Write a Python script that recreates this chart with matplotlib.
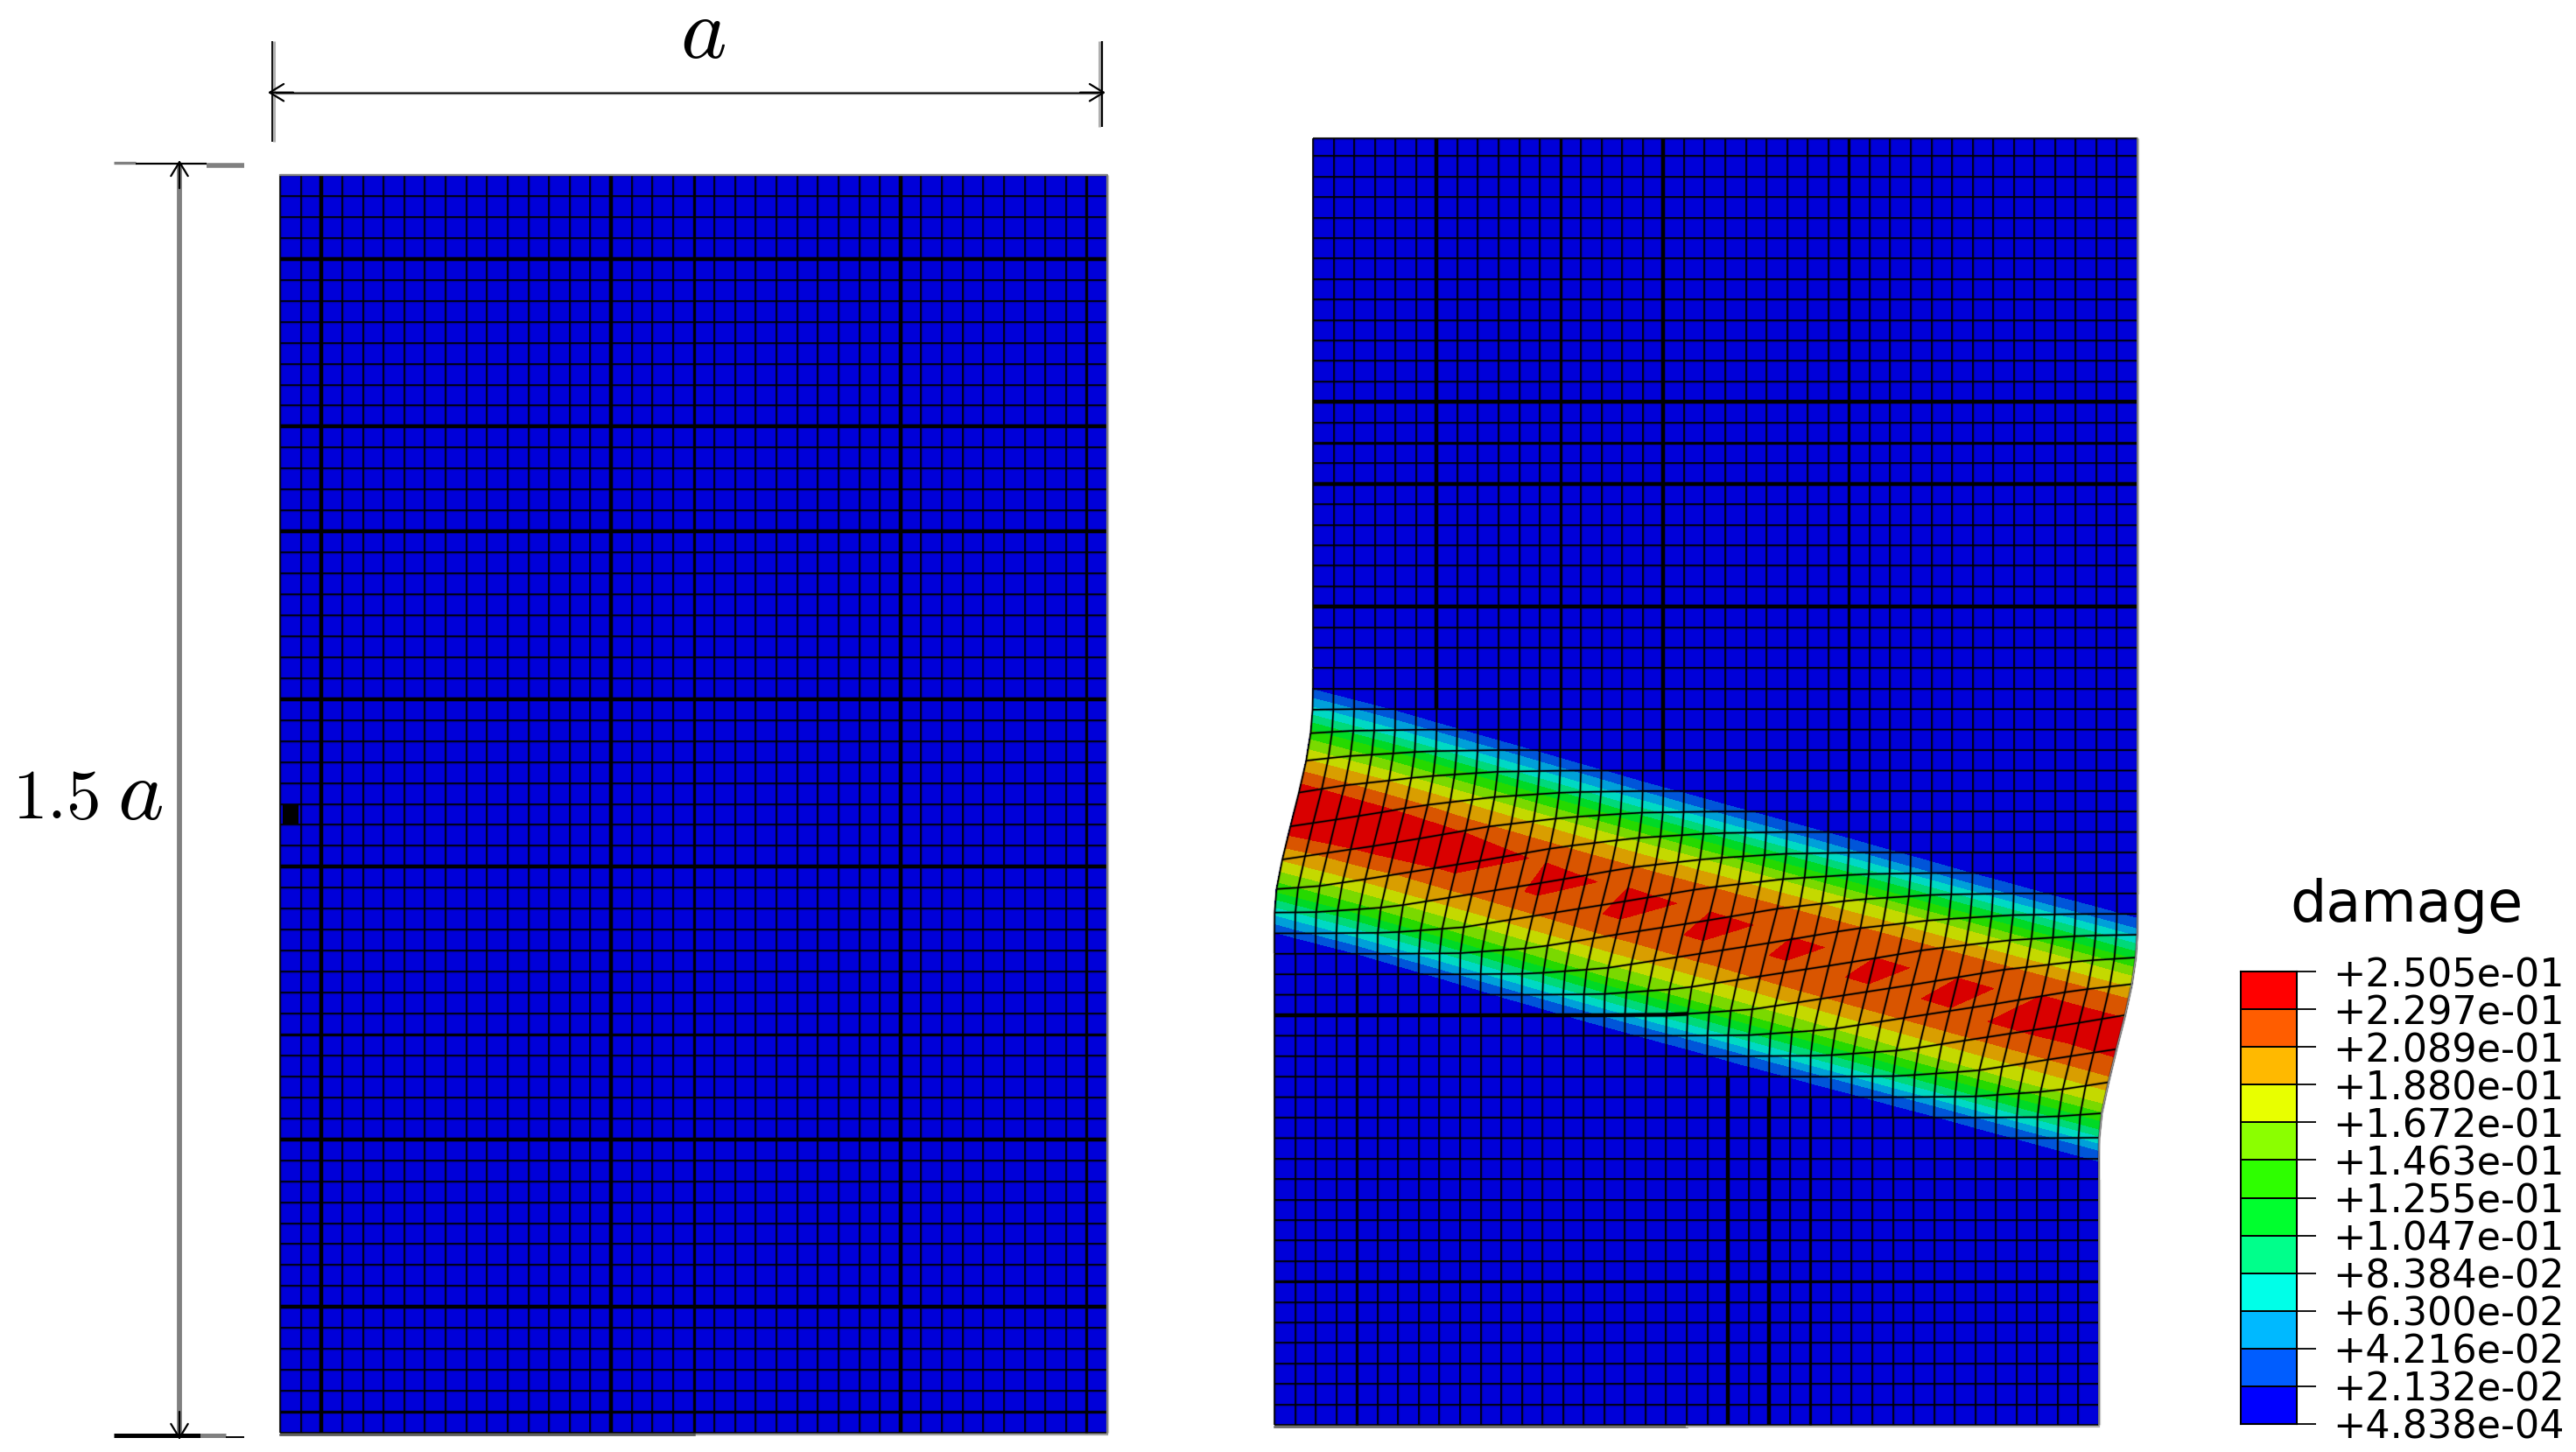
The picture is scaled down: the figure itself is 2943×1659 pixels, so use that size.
import numpy as np
import matplotlib
matplotlib.use("Agg")
import matplotlib.pyplot as plt
from matplotlib.colors import ListedColormap, BoundaryNorm
from matplotlib.patches import Rectangle

plt.rcParams["mathtext.fontset"] = "cm"
plt.rcParams["font.family"] = "DejaVu Sans"

# legend
level_labels = ["+4.838e-04", "+2.132e-02", "+4.216e-02", "+6.300e-02", "+8.384e-02",
                "+1.047e-01", "+1.255e-01", "+1.463e-01", "+1.672e-01", "+1.880e-01",
                "+2.089e-01", "+2.297e-01", "+2.505e-01"]
levels = [float(s) for s in level_labels]
legend_colors = ["#0000ff", "#005dff", "#00b9ff", "#00ffe8", "#00ff8b", "#00ff2e",
                 "#2eff00", "#8bff00", "#e8ff00", "#ffb900", "#ff5d00", "#ff0000"]
mesh_colors = ["#0000d9", "#0055d9", "#00a0d9", "#00d9c4", "#00d97a", "#00d926",
               "#26d900", "#7ad900", "#c4d900", "#d99e00", "#d95500", "#d90000"]

# mesh lines that are drawn heavier, left specimen
left_heavy_rows = [4, 12, 17, 25, 33, 46, 54]
left_medium_rows = [41, 59]
left_heavy_cols = [2, 16, 30]
left_medium_cols = [20, 39]
seed_col, seed_row = 0, 30

# right specimen
top_heavy_rows = [13, 17, 23]
top_medium_rows = [15]
bottom_heavy_rows = [40]
bottom_medium_rows = [53]
top_heavy_cols = [6, 17]
top_medium_cols = [12, 26]
bottom_heavy_cols = [22, 24]
bottom_medium_cols = [4, 26]

# damage read along the mesh, every 4th column (columns) for node rows 26..48
station_cols = [0, 4, 8, 12, 16, 20, 24, 28, 32, 36, 40]
band_centre_row = [31.5, 32.56, 33.72, 34.88, 36.04, 37.15, 38.26, 39.37, 40.48, 41.59, 42.7]
table_row_shift = [0.0, 0.0, 0.1, 0.2, 0.3, 0.35, 0.4, 0.45, 0.5, 0.55, 0.6]
table_rows = list(range(26, 49))
damage = [
    [0.000, 0.000, 0.000, 0.000, 0.000, 0.000, 0.000, 0.000, 0.000, 0.000, 0.000],
    [0.019, 0.000, 0.000, 0.000, 0.000, 0.000, 0.000, 0.000, 0.000, 0.000, 0.000],
    [0.069, 0.017, 0.000, 0.000, 0.000, 0.000, 0.000, 0.000, 0.000, 0.000, 0.000],
    [0.133, 0.065, 0.014, 0.000, 0.000, 0.000, 0.000, 0.000, 0.000, 0.000, 0.000],
    [0.190, 0.129, 0.062, 0.012, 0.000, 0.000, 0.000, 0.000, 0.000, 0.000, 0.000],
    [0.244, 0.187, 0.125, 0.058, 0.010, 0.000, 0.000, 0.000, 0.000, 0.000, 0.000],
    [0.244, 0.238, 0.184, 0.121, 0.054, 0.008, 0.000, 0.000, 0.000, 0.000, 0.000],
    [0.190, 0.240, 0.231, 0.181, 0.117, 0.050, 0.006, 0.000, 0.000, 0.000, 0.000],
    [0.133, 0.193, 0.236, 0.228, 0.178, 0.113, 0.047, 0.004, 0.000, 0.000, 0.000],
    [0.069, 0.137, 0.196, 0.236, 0.226, 0.175, 0.109, 0.043, 0.001, 0.000, 0.000],
    [0.019, 0.073, 0.140, 0.199, 0.238, 0.224, 0.172, 0.105, 0.039, 0.000, 0.000],
    [0.000, 0.021, 0.076, 0.144, 0.202, 0.238, 0.222, 0.169, 0.101, 0.036, 0.000],
    [0.000, 0.000, 0.023, 0.080, 0.148, 0.205, 0.236, 0.220, 0.166, 0.098, 0.034],
    [0.000, 0.000, 0.000, 0.026, 0.084, 0.152, 0.208, 0.238, 0.218, 0.163, 0.094],
    [0.000, 0.000, 0.000, 0.000, 0.028, 0.088, 0.156, 0.211, 0.240, 0.216, 0.160],
    [0.000, 0.000, 0.000, 0.000, 0.000, 0.030, 0.092, 0.160, 0.214, 0.248, 0.214],
    [0.000, 0.000, 0.000, 0.000, 0.000, 0.000, 0.033, 0.095, 0.164, 0.217, 0.247],
    [0.000, 0.000, 0.000, 0.000, 0.000, 0.000, 0.000, 0.035, 0.099, 0.167, 0.220],
    [0.000, 0.000, 0.000, 0.000, 0.000, 0.000, 0.000, 0.000, 0.037, 0.103, 0.170],
    [0.000, 0.000, 0.000, 0.000, 0.000, 0.000, 0.000, 0.000, 0.000, 0.040, 0.106],
    [0.000, 0.000, 0.000, 0.000, 0.000, 0.000, 0.000, 0.000, 0.000, 0.001, 0.042],
    [0.000, 0.000, 0.000, 0.000, 0.000, 0.000, 0.000, 0.000, 0.000, 0.000, 0.003],
    [0.000, 0.000, 0.000, 0.000, 0.000, 0.000, 0.000, 0.000, 0.000, 0.000, 0.000],
]

# how far the upper block has slipped, by node rows from the band centre
slip_rows = [-4, -3, -2, -1, 0, 1, 2, 3, 4]
slip_amount = [1.00, 0.98, 0.90, 0.75, 0.52, 0.31, 0.10, 0.01, 0.00]

n_cols, n_rows = 40, 60
THIN, MEDIUM, HEAVY = 1.15, 2.0, 3.0

cmap = ListedColormap(mesh_colors)
norm = BoundaryNorm(levels, cmap.N)

fig = plt.figure(figsize=(29.43, 16.59), dpi=100)
ax = fig.add_axes([0, 0, 1, 1])
ax.set_xlim(0, 2943)
ax.set_ylim(1659, 0)
ax.axis("off")


def line_width(k, heavy, medium):
    if k in heavy:
        return HEAVY
    if k in medium:
        return MEDIUM
    return THIN


def mesh_line(xs, ys, lw):
    # soft dark edge under the black core, as in the screenshot
    ax.plot(xs, ys, color="black", lw=lw + 1.3, alpha=0.22, zorder=3, solid_capstyle="butt")
    ax.plot(xs, ys, color="black", lw=lw, zorder=3, solid_capstyle="butt")


# left specimen, undeformed
left_x = np.linspace(320, 1265, n_cols + 1)
left_y = np.linspace(200, 1637, n_rows + 1)
ax.pcolormesh(left_x, left_y, np.full((n_rows, n_cols), levels[0]), cmap=cmap, norm=norm)
for j, y in enumerate(left_y):
    mesh_line([left_x[0], left_x[-1]], [y, y], line_width(j, left_heavy_rows, left_medium_rows))
for i, x in enumerate(left_x):
    mesh_line([x, x], [left_y[0], left_y[-1]], line_width(i, left_heavy_cols, left_medium_cols))
ax.plot([320, 1265, 1265], [200, 200, 1637], color="#808080", lw=1.6, zorder=3)
ax.plot([left_x[20], 1265], [1639, 1639], color="#a0a0a0", lw=1.6, zorder=3)
ax.plot([320, left_x[20]], [1639, 1639], color="#505050", lw=1.8, zorder=3)
ax.add_patch(Rectangle((323, 919), 18, 23, color="black", lw=0, zorder=4))


# right specimen, deformed
def deformed(i, j):
    i = np.asarray(i, dtype=float)
    j = np.asarray(j, dtype=float)
    centre = np.interp(i, station_cols, band_centre_row)
    w = np.interp(j - centre, slip_rows, slip_amount)
    x = 1456 + 23.55 * i + 44 * w
    y = 1628 - 23.4 * (n_rows - j) - 69 * w
    return x, np.maximum(y, 158)


ii, jj = np.meshgrid(np.arange(n_cols + 1), np.arange(n_rows + 1))
mesh_x, mesh_y = deformed(ii, jj)
ax.pcolormesh(mesh_x, mesh_y, np.full((n_rows, n_cols), levels[0]), cmap=cmap, norm=norm,
              shading="flat")

si, sj = np.meshgrid(station_cols, table_rows)
st_x, st_y = deformed(si, sj + np.array(table_row_shift))
ax.contourf(st_x, st_y, np.array(damage), levels=levels, cmap=cmap, norm=norm, zorder=2)

# heavy lines only show outside the band
for j in range(n_rows + 1):
    if j <= 26:
        mesh_line(mesh_x[j], mesh_y[j], line_width(j, top_heavy_rows, top_medium_rows))
    elif j in bottom_heavy_rows or j in bottom_medium_rows:
        # row runs heavy from the left edge up to the band, thin inside it
        last = 20 if j in bottom_heavy_rows else n_cols
        mesh_line(mesh_x[j, : last + 1], mesh_y[j, : last + 1],
                  line_width(j, bottom_heavy_rows, bottom_medium_rows))
        mesh_line(mesh_x[j, last:], mesh_y[j, last:], THIN)
    else:
        mesh_line(mesh_x[j], mesh_y[j], THIN)
for i in range(n_cols + 1):
    centre = np.interp(i, station_cols, band_centre_row)
    upper = int(centre - 5)
    lower = int(centre + 6)
    mesh_line(mesh_x[: upper + 1, i], mesh_y[: upper + 1, i],
              line_width(i, top_heavy_cols, top_medium_cols))
    mesh_line(mesh_x[upper: lower + 1, i], mesh_y[upper: lower + 1, i], THIN)
    mesh_line(mesh_x[lower:, i], mesh_y[lower:, i],
              line_width(i, bottom_heavy_cols, bottom_medium_cols))
ax.plot(mesh_x[:, 40], mesh_y[:, 40], color="#909090", lw=1.2, zorder=3)
ax.plot(mesh_x[60, :21], mesh_y[60, :21] + 2, color="#606060", lw=1.8, zorder=3)
ax.plot(mesh_x[60, 20:], mesh_y[60, 20:] + 2, color="#b0b0b0", lw=1.6, zorder=3)


# dimension lines
def dim_head(tip, tail):
    ax.annotate("", xy=tip, xytext=tail,
                arrowprops=dict(arrowstyle="->,head_length=1.15,head_width=0.7", color="black",
                                lw=1.6, shrinkA=0, shrinkB=0, mutation_scale=10))


ax.plot([311, 1260], [105.7, 105.7], color="#909090", lw=2.4, solid_capstyle="butt")
ax.plot([311, 1260], [105.7, 105.7], color="black", lw=1.0, solid_capstyle="butt")
ax.plot([312.5, 312.5], [47, 162], color="#b0b0b0", lw=2.2, solid_capstyle="butt")
ax.plot([310.5, 310.5], [47, 162], color="black", lw=1.3, solid_capstyle="butt")
ax.plot([1256, 1256], [47, 145], color="#b0b0b0", lw=2.2, solid_capstyle="butt")
ax.plot([1259, 1259], [47, 145], color="black", lw=1.6, solid_capstyle="butt")
dim_head((306, 105.7), (335, 105.7))
dim_head((1263, 105.7), (1234, 105.7))

ax.plot([205, 205], [187, 1640], color="#808080", lw=4.2, solid_capstyle="butt")
ax.plot([130, 155], [186, 186], color="#808080", lw=2.4, solid_capstyle="butt")
ax.plot([155, 236], [187, 187], color="black", lw=1.6, solid_capstyle="butt")
ax.plot([236, 279], [189, 189], color="#808080", lw=4.0, solid_capstyle="butt")
ax.plot([130, 229], [1639.5, 1639.5], color="black", lw=3.6, solid_capstyle="butt")
ax.plot([229, 258], [1640, 1640], color="#808080", lw=3.6, solid_capstyle="butt")
ax.plot([258, 279], [1642, 1642], color="black", lw=1.4, solid_capstyle="butt")
dim_head((205, 183), (205, 215))
dim_head((205, 1645), (205, 1613))

ax.text(777, 66, r"$a$", fontsize=72, ha="left", va="baseline")
ax.text(14, 935, r"$1.5$", fontsize=57, ha="left", va="baseline")
ax.text(134, 936, r"$a$", fontsize=72, ha="left", va="baseline")

# legend bar
ax.text(2616, 1053, "damage", fontsize=47, ha="left", va="baseline")
cax = fig.add_axes([2560 / 2943, 1 - 1627 / 1659, 64 / 2943, 517 / 1659])
cax.barh(np.arange(12), 1, height=1, left=0, align="edge", color=legend_colors,
         edgecolor="black", linewidth=1.4)
cax.set_xlim(0, 1)
cax.set_ylim(0, 12)
cax.set_xticks([])
cax.set_yticks(np.arange(13))
cax.set_yticklabels(level_labels, fontsize=32)
cax.yaxis.tick_right()
cax.tick_params(axis="y", length=16, width=1.3, pad=14)
for sp in cax.spines.values():
    sp.set_linewidth(1.5)

fig.savefig("out.png", dpi=100)
